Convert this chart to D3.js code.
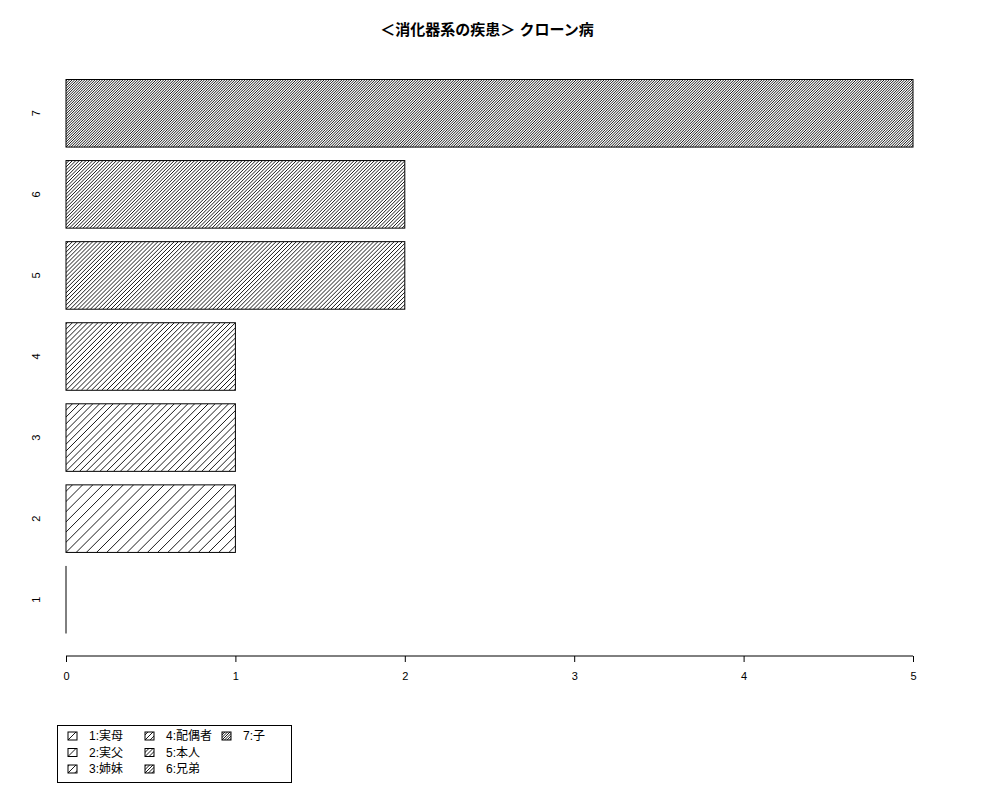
<!DOCTYPE html>
<html><head><meta charset="utf-8">
<script src="https://cdn.jsdelivr.net/npm/d3@7"></script>
<style>body{margin:0;background:#fff}svg{display:block}</style>
</head><body>
<script>
const title = "＜消化器系の疾患＞ クローン病";
const categories = ["1","2","3","4","5","6","7"];
const values = [0,1,1,1,2,2,5];
const legendLabels = ["1:実母","2:実父","3:姉妹","4:配偶者","5:本人","6:兄弟","7:子"];
const xTicks = [0,1,2,3,4,5];
// hatch densities (lines per inch), style only
const hatchDensity = [5,10,15,20,25,30,40];

const W=1000,H=800;
const font = "'Liberation Sans','Noto Sans CJK JP',sans-serif";
const svg=d3.select("body").append("svg").attr("width",W).attr("height",H)
  .style("font-family",font);
svg.append("rect").attr("width",W).attr("height",H).attr("fill","#fff");

const x=d3.scaleLinear().domain([0,5]).range([66,913]);
const y=d3.scaleBand().domain(categories.slice().reverse()).range([79.5,633.5])
  .paddingInner(0.2/1.2).paddingOuter(0);
const defs=svg.append("defs");
let clipN=0;

function hatchRect(g, rx, ry, rw, rh, i){
  const h=72/hatchDensity[i]*Math.SQRT2; // horizontal spacing
  const id="c"+(clipN++);
  defs.append("clipPath").attr("id",id).append("rect")
    .attr("x",rx).attr("y",ry).attr("width",rw).attr("height",rh);
  const hg=g.append("g").attr("clip-path",`url(#${id})`);
  const ks=d3.range(Math.floor(-rh/h)-1, Math.ceil(rw/h)+1);
  hg.selectAll("line").data(ks).join("line")
    .attr("x1",k=>rx+k*h).attr("y1",ry+rh)
    .attr("x2",k=>rx+k*h+rh).attr("y2",ry)
    .attr("stroke","#000").attr("stroke-width",0.9);
  g.append("rect").attr("x",rx).attr("y",ry).attr("width",rw).attr("height",rh)
    .attr("fill","none").attr("stroke","#000").attr("stroke-width",1);
}

// bars
const bars=svg.append("g");
categories.forEach((c,i)=>{
  const w=x(values[i])-x(0);
  if(w>0) hatchRect(bars, x(0), y(c), w, y.bandwidth(), i);
  else bars.append("line").attr("x1",x(0)).attr("x2",x(0))
    .attr("y1",y(c)).attr("y2",y(c)+y.bandwidth()).attr("stroke","#000").attr("stroke-width",1);
});

// y labels
svg.append("g").selectAll("text").data(categories).join("text")
  .attr("transform",d=>`translate(40,${y(d)+y.bandwidth()/2}) rotate(-90)`)
  .attr("text-anchor","middle").attr("font-size",11).text(d=>d);

// x axis
const ax=svg.append("g").attr("transform","translate(0,656)")
  .call(d3.axisBottom(x).tickValues(xTicks).tickSize(6).tickPadding(10).tickFormat(d3.format("d")));
ax.select(".domain").attr("d",`M${x(0)},0H${x(5)}`).attr("stroke","#000");
ax.selectAll(".tick line").attr("stroke","#000");
ax.selectAll(".tick text").attr("font-size",11).attr("font-family",font).attr("fill","#000");

// title
svg.append("text").attr("x",487).attr("y",35).attr("text-anchor","middle")
  .attr("font-size",15).attr("font-weight","bold").text(title);

// legend
const lg=svg.append("g");
lg.append("rect").attr("x",57.5).attr("y",725.5).attr("width",234).attr("height",57)
  .attr("fill","none").attr("stroke","#000");
const colX=[68,145,222], rowY=[736,752.5,769];
legendLabels.forEach((t,i)=>{
  const cx=colX[Math.floor(i/3)], cy=rowY[i%3];
  hatchRect(lg, cx, cy-4, 9, 8, i);
  lg.append("text").attr("x",cx+21).attr("y",cy).attr("dy","0.36em")
    .attr("font-size",12).text(t);
});
</script>
</body></html>
